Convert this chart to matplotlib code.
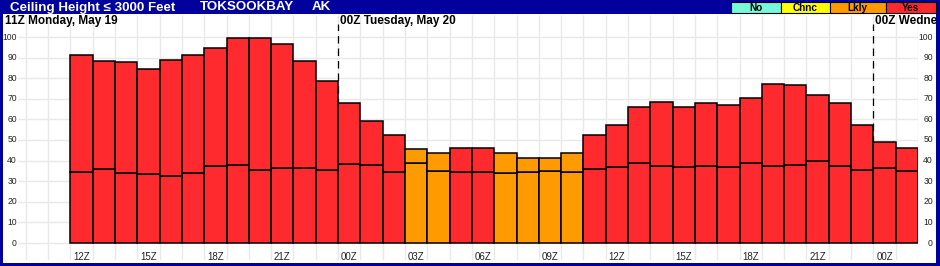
import numpy as np
import matplotlib
matplotlib.use('Agg')
import matplotlib.pyplot as plt
from matplotlib.patches import Rectangle

plt.rcParams['font.family'] = ['Liberation Sans', 'DejaVu Sans']

# hourly forecast, 12Z Mon May 19 .. 01Z Wed May 21
hours = [12, 13, 14, 15, 16, 17, 18, 19, 20, 21, 22, 23,
         0, 1, 2, 3, 4, 5, 6, 7, 8, 9, 10, 11, 12, 13, 14, 15, 16, 17, 18, 19, 20, 21, 22, 23,
         0, 1]
total = [91.5, 88.4, 87.9, 84.7, 88.9, 91.5, 94.8, 99.7, 99.7, 96.6, 88.4, 78.7,
         68.2, 59.0, 52.6, 45.5, 43.9, 46.0, 46.0, 43.9, 41.5, 41.5, 43.9, 52.3,
         57.1, 65.8, 68.7, 65.8, 68.2, 66.8, 70.2, 77.4, 76.9, 72.1, 68.2, 57.1,
         48.9, 46.0]
lower = [34.7, 35.8, 34.2, 33.7, 32.7, 34.2, 37.3, 37.7, 35.6, 36.3, 36.3, 35.6,
         38.5, 38.1, 34.7, 39.0, 35.2, 34.7, 34.7, 34.2, 34.7, 35.2, 34.7, 36.1,
         36.8, 38.7, 37.3, 36.8, 37.3, 36.8, 38.7, 37.3, 37.7, 39.7, 37.3, 35.3,
         36.3, 34.8]
level = ['Yes'] * 15 + ['Lkly', 'Lkly', 'Yes', 'Yes', 'Lkly', 'Lkly', 'Lkly', 'Lkly'] + ['Yes'] * 15
day_labels = ['11Z Monday, May 19', '00Z Tuesday, May 20', '00Z Wednesday, May 21']
day_starts = [-1, 12, 36]
yticks = list(range(0, 101, 10))

legend_names = ['No', 'Chnc', 'Lkly', 'Yes']
legend_colors = {'No': '#78f8da', 'Chnc': '#ffff00', 'Lkly': '#ff9a00', 'Yes': '#ff2a2d'}
BLUE = '#00009c'
W, H = 940, 266


def fig_box(x0, y0, x1, y1):
    # pixel box (from top-left) -> figure fraction rect
    return [x0 / W, 1 - y1 / H, (x1 - x0) / W, (y1 - y0) / H]


fig = plt.figure(figsize=(W / 100, H / 100), dpi=100)
fig.patch.set_facecolor(BLUE)
b = fig_box(3, 14, 936, 263)
fig.add_artist(Rectangle((b[0], b[1]), b[2], b[3], transform=fig.transFigure,
                         facecolor='white', edgecolor='none', zorder=-1))

ax = fig.add_axes(fig_box(18, 15, 918, 260))
ax.set_facecolor('white')
for s in ax.spines.values():
    s.set_visible(False)
ax.set_xticks([])
ax.set_yticks([])
x0, x1 = -2.35, 38
y0, y1 = -8.25, 110.7
ax.set_xlim(x0, x1)
ax.set_ylim(y0, y1)

ax.vlines(np.arange(-2, 39), y0, y1, color='#e9e9e9', lw=1, zorder=0)
ax.hlines(yticks, x0, x1, color='#e9e9e9', lw=1, zorder=0)
ax.vlines(day_starts[1:], 0, 106.3, colors='black', linestyles=(0, (6, 4)), lw=0.9, zorder=1)

x = np.arange(len(total))
cols = [legend_colors[l] for l in level]
ax.bar(x, lower, width=1, align='edge', color=cols, edgecolor='black', lw=1.1, zorder=2)
ax.bar(x, np.array(total) - np.array(lower), bottom=lower, width=1, align='edge',
       color=cols, edgecolor='black', lw=1.1, zorder=2)

for i in range(0, len(hours), 3):
    ax.text(i + 0.5, -6.9, '%02dZ' % hours[i], ha='center', va='center',
            fontsize=7, color='#222222')

for v in yticks:
    yy = 1 - (243 - v * 2.06) / H
    fig.text(17 / W, yy, str(v), ha='right', va='center', fontsize=6.2, color='#222222')
    fig.text(933 / W, yy, str(v), ha='right', va='center', fontsize=6.2, color='#222222')

for lab, d in zip(day_labels, day_starts):
    xpos = -2.93 if d < 0 else d + 0.09
    ax.text(xpos, 107.6, lab, ha='left', va='center', fontsize=8.5,
            fontweight='bold', color='black', clip_on=False)

# frame on top of the plot area
for rb in [(0, 0, W, 14), (0, 0, 3, H), (936, 0, W, H), (0, 263, W, H)]:
    r = fig_box(*rb)
    fig.add_artist(Rectangle((r[0], r[1]), r[2], r[3], transform=fig.transFigure,
                             facecolor=BLUE, edgecolor='none', zorder=10))

ty = 1 - 7.5 / H
for txt, tx in [('Ceiling Height \u2264 3000 Feet', 10), ('TOKSOOKBAY', 200), ('AK', 312)]:
    fig.text(tx / W, ty, txt, color='white', fontsize=9.6, fontweight='bold',
             va='center', ha='left', zorder=11)

edges = [731, 781, 830, 885.7, 936]
for k, name in enumerate(legend_names):
    r = fig_box(edges[k], 2, edges[k + 1], 13)
    fig.add_artist(Rectangle((r[0], r[1]), r[2], r[3], transform=fig.transFigure,
                             facecolor=legend_colors[name], edgecolor='black', lw=0.8, zorder=11))
    fig.text((edges[k] + edges[k + 1]) / 2 / W, 1 - 7.8 / H, name, ha='center', va='center',
             fontsize=7.2, fontweight='bold', color='black', zorder=12)

fig.savefig('out.png', dpi=100, facecolor=BLUE)
